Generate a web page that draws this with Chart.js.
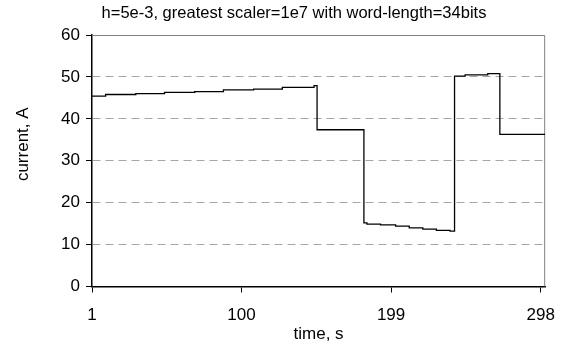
<!DOCTYPE html>
<html>
<head>
<meta charset="utf-8">
<script src="https://cdn.jsdelivr.net/npm/chart.js@4.4.1/dist/chart.umd.min.js"></script>
<style>
  body { margin: 0; background: #fff; }
  #myChart { display: block; }
</style>
</head>
<body>
<canvas id="myChart" width="568" height="345"></canvas>
<script>
// time (s) where each level starts, and the current level held from there
const stepTimes  = [1, 10, 30, 49, 69, 88, 108, 127, 148, 150, 181, 183, 192, 202, 211, 220, 229, 238, 241, 248, 263, 271, 301];
const stepValues = [45.4, 45.8, 46.0, 46.3, 46.5, 46.9, 47.1, 47.5, 47.9, 37.4, 15.2, 14.9, 14.7, 14.4, 14.0, 13.7, 13.4, 13.2, 50.2, 50.5, 50.8, 36.3, 36.3];
// tick labels on the time axis
const xTicks = [1, 100, 199, 298];
const yTicks = [0, 10, 20, 30, 40, 50, 60];

const titleText = 'h=5e-3, greatest scaler=1e7 with word-length=34bits';
const yTitle = 'current, A';
const fontFamily = '"Liberation Sans", Arial, sans-serif';

// grey frame along top and right of the plot area + the y title,
// which excel puts a bit above the middle of the axis
const frame = {
    id: 'frame',
    beforeDatasetsDraw(chart) {
        const { ctx, chartArea: a } = chart;
        ctx.save();
        ctx.strokeStyle = '#808080';
        ctx.lineWidth = 1;
        ctx.beginPath();
        ctx.moveTo(a.left, a.top + 0.5);
        ctx.lineTo(a.right - 0.5, a.top + 0.5);
        ctx.lineTo(a.right - 0.5, a.bottom);
        ctx.stroke();
        ctx.restore();
    },
    afterDraw(chart) {
        const { ctx, chartArea: a } = chart;
        ctx.save();
        ctx.translate(23, (a.top + a.bottom) / 2 - 16.5);
        ctx.rotate(-Math.PI / 2);
        ctx.font = '17px ' + fontFamily;
        ctx.fillStyle = '#000';
        ctx.textAlign = 'center';
        ctx.textBaseline = 'middle';
        ctx.fillText(yTitle, 0, 0);
        ctx.restore();
    }
};

const points = stepTimes.map((t, i) => ({ x: t, y: stepValues[i] }));

const ctx = document.getElementById('myChart').getContext('2d');
const myChart = new Chart(ctx, {
    type: 'line',
    data: {
        datasets: [{
            data: points,
            stepped: true,
            borderColor: '#000',
            borderWidth: 1.3,
            pointRadius: 0,
            fill: false
        }]
    },
    options: {
        responsive: false,
        animation: false,
        layout: { padding: { left: 37, right: 17, top: 0, bottom: 0 } },
        plugins: {
            legend: { display: false },
            tooltip: { enabled: false },
            title: {
                display: true,
                text: titleText,
                color: '#000',
                font: { family: fontFamily, size: 16.5, weight: 'normal' },
                padding: { top: 4, bottom: 11.2 }
            }
        },
        scales: {
            x: {
                type: 'linear',
                min: 1,
                max: 301,
                afterBuildTicks: scale => { scale.ticks = xTicks.map(v => ({ value: v })); },
                afterFit: scale => { scale.height = 58.5; },
                ticks: {
                    color: '#000',
                    font: { family: fontFamily, size: 17 },
                    padding: 13,
                    maxRotation: 0,
                    autoSkip: false
                },
                grid: { drawOnChartArea: false, tickLength: 6, tickColor: '#000' },
                border: { color: '#000', width: 1.5 },
                title: {
                    display: true,
                    text: 'time, s',
                    color: '#000',
                    font: { family: fontFamily, size: 17 },
                    padding: { top: 0, bottom: 0 }
                }
            },
            y: {
                min: 0,
                max: 60,
                afterBuildTicks: scale => { scale.ticks = yTicks.map(v => ({ value: v })); },
                afterFit: scale => { scale.width = 55; },
                ticks: {
                    color: '#000',
                    font: { family: fontFamily, size: 17 },
                    padding: 6
                },
                grid: {
                    color: c => (c.tick && (c.tick.value === 0 || c.tick.value === 60)) ? 'rgba(0,0,0,0)' : '#a6a6a6',
                    tickColor: '#000',
                    tickLength: 6,
                    lineWidth: 1
                },
                border: { color: '#000', width: 1.5, dash: [8, 5] },
                title: { display: false }
            }
        }
    },
    plugins: [frame]
});
</script>
</body>
</html>
